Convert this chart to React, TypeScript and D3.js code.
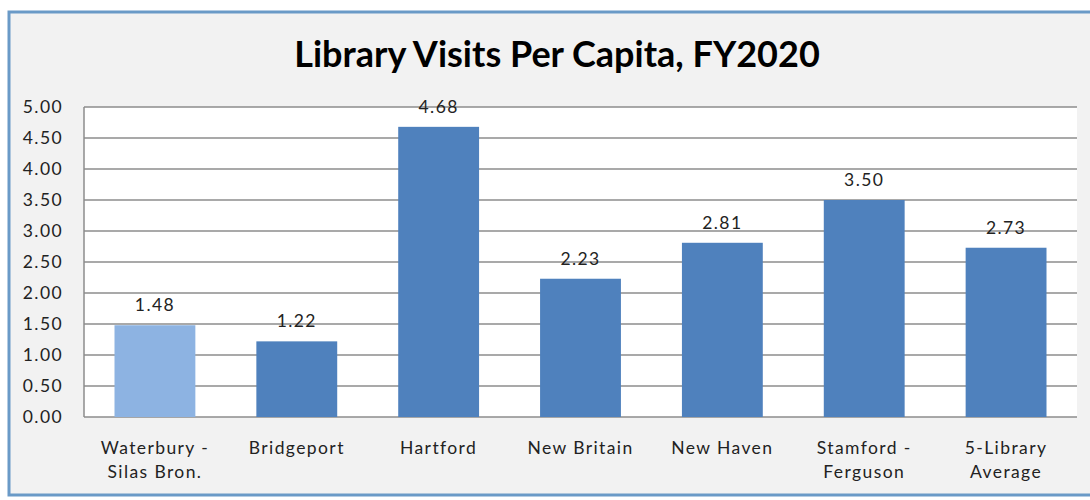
import React from "react";
import * as d3 from "d3";

const categories: string[][] = [
  ["Waterbury -", "Silas Bron."],
  ["Bridgeport"],
  ["Hartford"],
  ["New Britain"],
  ["New Haven"],
  ["Stamford -", "Ferguson"],
  ["5-Library", "Average"],
];
const values: number[] = [1.48, 1.22, 4.68, 2.23, 2.81, 3.5, 2.73];
const yTicks: number[] = [0, 0.5, 1, 1.5, 2, 2.5, 3, 3.5, 4, 4.5, 5];
const title = "Library Visits Per Capita, FY2020";

const W = 1090;
const H = 500;
const plot = { left: 84, right: 1077, top: 107, bottom: 417 };
const FONT = "Lato, 'Open Sans', sans-serif";
const LS = 1.4;
const FS = 17.5;

export default function App() {
  const x = d3
    .scaleBand<number>()
    .domain(values.map((_, i) => i))
    .range([plot.left, plot.right])
    .paddingInner(0.43)
    .paddingOuter(0.215);
  const y = d3.scaleLinear().domain([0, 5]).range([plot.bottom, plot.top]);

  return (
    <svg
      width={W}
      height={H}
      style={{ position: "absolute", left: 0, top: 0 }}
      xmlns="http://www.w3.org/2000/svg"
    >
      <rect x={0} y={0} width={W} height={H} fill="#ffffff" />
      <rect
        x={9}
        y={12}
        width={W + 20}
        height={483}
        fill="#f2f2f2"
        stroke="#6a9ac7"
        strokeWidth={3}
      />
      <text
        x={557}
        y={67}
        textAnchor="middle"
        fontFamily={FONT}
        fontWeight="bold"
        fontSize={36}
        fill="#000"
      >
        {title}
      </text>
      <rect
        x={plot.left}
        y={plot.top}
        width={plot.right - plot.left}
        height={plot.bottom - plot.top}
        fill="#ffffff"
      />
      {yTicks.map((t) => (
        <g key={t}>
          <line
            x1={plot.left}
            x2={plot.right}
            y1={y(t)}
            y2={y(t)}
            stroke="#8c8c8c"
            strokeWidth={1.5}
          />
          <text
            x={63}
            y={y(t)}
            dy="0.35em"
            textAnchor="end"
            fontFamily={FONT}
            fontSize={FS}
            letterSpacing={LS}
            fill="#222"
          >
            {t.toFixed(2)}
          </text>
        </g>
      ))}
      <line
        x1={plot.left}
        x2={plot.left}
        y1={plot.top}
        y2={plot.bottom}
        stroke="#8c8c8c"
        strokeWidth={1.5}
      />
      {values.map((v, i) => (
        <g key={i}>
          <rect
            x={x(i)!}
            y={y(v)}
            width={x.bandwidth()}
            height={y(0) - y(v)}
            fill={i === 0 ? "#8db3e2" : "#4f81bd"}
          />
          <text
            x={x(i)! + x.bandwidth() / 2}
            y={y(v) - 14}
            textAnchor="middle"
            fontFamily={FONT}
            fontSize={FS}
            letterSpacing={LS}
            fill="#222"
          >
            {v.toFixed(2)}
          </text>
          {categories[i].map((line, j) => (
            <text
              key={j}
              x={x(i)! + x.bandwidth() / 2}
              y={448 + j * 24}
              dy="0.35em"
              textAnchor="middle"
              fontFamily={FONT}
              fontSize={FS}
              letterSpacing={LS}
              fill="#222"
            >
              {line}
            </text>
          ))}
        </g>
      ))}
    </svg>
  );
}
